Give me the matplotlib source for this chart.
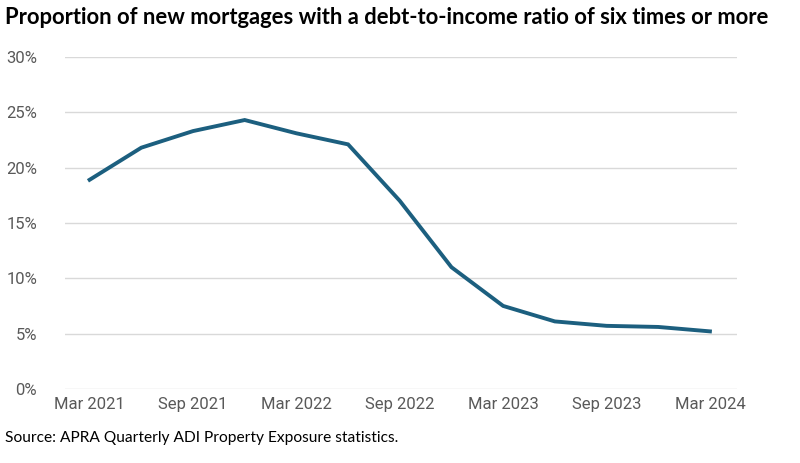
import matplotlib.pyplot as plt
from matplotlib.ticker import FuncFormatter

quarters = ["Mar 2021", "Jun 2021", "Sep 2021", "Dec 2021", "Mar 2022", "Jun 2022",
            "Sep 2022", "Dec 2022", "Mar 2023", "Jun 2023", "Sep 2023", "Dec 2023",
            "Mar 2024"]
share = [18.9, 21.8, 23.3, 24.3, 23.1, 22.1, 17.0, 11.0, 7.5, 6.1, 5.7, 5.6, 5.2]
yticks = [0, 5, 10, 15, 20, 25, 30]

fig = plt.figure(figsize=(8, 4.63), dpi=100)
ax = fig.add_axes([0.081, 0.160, 0.840, 0.717])

x = list(range(len(quarters)))
ax.plot(x, share, color="#1c5f7f", linewidth=2.8, solid_joinstyle="miter")

ax.set_xlim(-0.48, 12.52)
ax.set_ylim(0, 30)
ax.set_yticks(yticks)
ax.yaxis.set_major_formatter(FuncFormatter(lambda v, p: f"{v:.0f}%"))
ax.set_xticks(x[::2])
ax.set_xticklabels(quarters[::2])
ax.grid(axis="y", color="#d9d9d9", linewidth=1.0)
ax.set_axisbelow(True)
for s in ax.spines.values():
    s.set_visible(False)
ax.tick_params(length=0, labelsize=12, labelcolor="#595959", pad=6)
ax.tick_params(axis="y", pad=20)
for lab in ax.get_xticklabels() + ax.get_yticklabels():
    lab.set_family("Roboto")

fig.text(0.006, 0.962, "Proportion of new mortgages with a debt-to-income ratio of six times or more",
         fontsize=15.8, fontweight="bold", family="Lato", va="center", ha="left")
fig.text(0.006, 0.053, "Source: APRA Quarterly ADI Property Exposure statistics.",
         fontsize=11.2, family="Lato", va="center", ha="left")

fig.savefig("out.png", dpi=100)
